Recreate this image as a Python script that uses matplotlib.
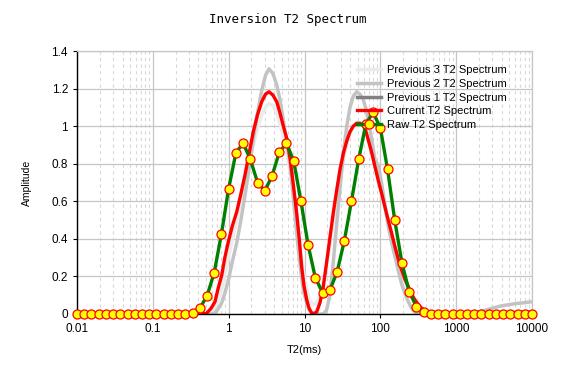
import matplotlib
matplotlib.use("Agg")
import matplotlib.pyplot as plt
import numpy as np

# raw T2 bins (64 log-spaced bins from 0.01 to 10000 ms)
t2_raw = np.logspace(-2, 4, 64)
raw = [0, 0, 0, 0, 0, 0, 0, 0, 0, 0, 0, 0, 0, 0, 0, 0,
       0.007, 0.03, 0.096, 0.22, 0.427, 0.668, 0.857, 0.91, 0.823, 0.70,
       0.656, 0.734, 0.86, 0.91, 0.815, 0.602, 0.367, 0.193, 0.113, 0.126,
       0.222, 0.387, 0.60, 0.823, 1.012, 1.073, 0.991, 0.77, 0.498, 0.27,
       0.119, 0.039, 0.009,
       0, 0, 0, 0, 0, 0, 0, 0, 0, 0, 0, 0, 0, 0, 0]

# T2 points where the smooth (inverted) spectra were read
t2_fit = [0.01, 0.42, 0.51, 0.585, 0.66, 0.72, 0.81, 0.89, 0.99, 1.12, 1.28,
          1.45, 1.64, 1.85, 2.11, 2.40, 2.73, 3.06, 3.40, 3.84, 4.30, 4.75,
          5.26, 5.88, 6.44, 7.12, 7.89, 8.47, 9.18, 9.85, 10.7, 11.5, 12.4,
          13.35, 14.5, 16.0, 17.7, 19.5, 21.7, 24.0, 26.6, 29.4, 32.5, 36.0,
          39.8, 44.0, 48.8, 54.0, 59.7, 64.8, 69.4, 76.9, 85, 94, 104, 115,
          127, 141, 156, 173, 191, 211, 234, 259, 286, 317, 351, 409, 476,
          612, 1520, 2260, 3790, 5970, 10000]

current = [0, 0, 0.003, 0.03, 0.065, 0.13, 0.207, 0.30, 0.385, 0.47, 0.545,
           0.64, 0.74, 0.85, 0.97, 1.06, 1.13, 1.17, 1.183, 1.165, 1.13, 1.07,
           1.0, 0.93, 0.83, 0.69, 0.536, 0.41, 0.25, 0.15, 0.075, 0.03, 0.005,
           0.002, 0.012, 0.06, 0.145, 0.27, 0.41, 0.54, 0.66, 0.77, 0.855, 0.92,
           0.97, 1.0, 1.015, 1.015, 1.003, 0.97, 0.926, 0.86, 0.784, 0.71, 0.642, 0.57,
           0.50, 0.43, 0.358, 0.29, 0.234, 0.185, 0.145, 0.105, 0.075, 0.05, 0.03, 0.013, 0.005,
           0.002, 0.003, 0.004, 0.006, 0.008, 0.01]

prev2 = [0, 0, 0, 0, 0.005, 0.025, 0.06, 0.11, 0.18, 0.28, 0.38,
         0.5, 0.63, 0.77, 0.93, 1.07, 1.19, 1.27, 1.305, 1.28, 1.22, 1.14,
         1.03, 0.9, 0.80, 0.62, 0.43, 0.31, 0.19, 0.11, 0.06, 0.025, 0.008,
         0.002, 0, 0, 0, 0.02, 0.1, 0.28, 0.48, 0.67, 0.85, 0.997,
         1.1, 1.16, 1.183, 1.17, 1.14, 1.09, 1.03, 0.93, 0.82, 0.79, 0.695, 0.58,
         0.47, 0.38, 0.305, 0.23, 0.16, 0.11, 0.065, 0.03, 0.01, 0.002, 0, 0, 0,
         0, 0.002, 0.017, 0.042, 0.055, 0.065]

prev3 = [0, 0, 0, 0.01, 0.03, 0.07, 0.13, 0.21, 0.3, 0.4, 0.5,
         0.6, 0.7, 0.8, 0.9, 0.99, 1.06, 1.1, 1.12, 1.11, 1.07, 1.01,
         0.94, 0.85, 0.76, 0.64, 0.5, 0.4, 0.29, 0.2, 0.13, 0.08, 0.055,
         0.05, 0.06, 0.1, 0.17, 0.26, 0.37, 0.49, 0.61, 0.72, 0.82, 0.9,
         0.96, 1.0, 1.02, 1.02, 1.0, 0.97, 0.93, 0.86, 0.79, 0.72, 0.64, 0.56,
         0.49, 0.42, 0.35, 0.28, 0.22, 0.17, 0.13, 0.09, 0.065, 0.045, 0.03, 0.015, 0.007,
         0.003, 0, 0, 0, 0, 0]

prev1 = []  # no previous-1 spectrum in the picture

x_ticks = [0.01, 0.1, 1, 10, 100, 1000, 10000]
x_tick_labels = ["0.01", "0.1", "1", "10", "100", "1000", "10000"]
y_ticks = [0, 0.2, 0.4, 0.6, 0.8, 1.0, 1.2, 1.4]
y_tick_labels = ["0", "0.2", "0.4", "0.6", "0.8", "1", "1.2", "1.4"]

plt.rcParams["font.family"] = ["Liberation Sans", "DejaVu Sans"]

W, H = 573, 373
fig = plt.figure(figsize=(W / 100, H / 100), dpi=100)
ax = fig.add_axes([77 / W, (H - 314) / H, (532 - 77) / W, (314 - 51) / H])

ax.plot(t2_fit, prev3, color="#ebebeb", lw=2.5, label="Previous 3 T2 Spectrum")
ax.plot(t2_fit, prev2, color="#c3c3c3", lw=2.5, label="Previous 2 T2 Spectrum")
ax.plot(prev1, prev1, color="#808080", lw=2.5, label="Previous 1 T2 Spectrum")
ax.plot(t2_fit, current, color="#ff0000", lw=2.4, label="Current T2 Spectrum")
ax.plot(t2_raw, raw, color="#008000", lw=2.4, marker="o", ms=6.5,
        mfc="#ffff00", mec="#ff0000", mew=0.9, label="Raw T2 Spectrum",
        clip_on=False, zorder=5)

ax.set_xscale("log")
ax.set_xlim(0.01, 10000)
ax.set_ylim(0, 1.4)
ax.set_xticks(x_ticks)
ax.set_xticklabels(x_tick_labels)
ax.set_yticks(y_ticks)
ax.set_yticklabels(y_tick_labels)
ax.tick_params(axis="both", labelsize=8.5, length=3, width=0.8, color="black")
ax.tick_params(axis="x", which="minor", length=0)

ax.grid(which="major", color="#c6c6c6", lw=0.9, ls="-")
ax.grid(which="minor", axis="x", color="#d8d8d8", lw=0.8, ls=(0, (3, 3)))
ax.set_axisbelow(True)

for s in ("top", "right"):
    ax.spines[s].set_color("#c6c6c6")
    ax.spines[s].set_linewidth(0.9)
for s in ("left", "bottom"):
    ax.spines[s].set_color("black")
    ax.spines[s].set_linewidth(1.0)

ax.set_xlabel("T2(ms)", fontsize=8, labelpad=7)
ax.set_ylabel("Amplitude", fontsize=7.5, labelpad=14)

fig.text(0.5025, 1 - 20 / H, "Inversion T2 Spectrum", ha="center", va="center",
         fontsize=9, family="DejaVu Sans Mono")

leg = ax.legend(loc="upper left", bbox_to_anchor=(357 / W, 1 - 65 / H),
                bbox_transform=fig.transFigure, frameon=False, fontsize=8,
                handlelength=2.2, handletextpad=0.5, labelspacing=0.34,
                borderpad=0, borderaxespad=0, numpoints=1)

fig.savefig("out.png", dpi=100)
